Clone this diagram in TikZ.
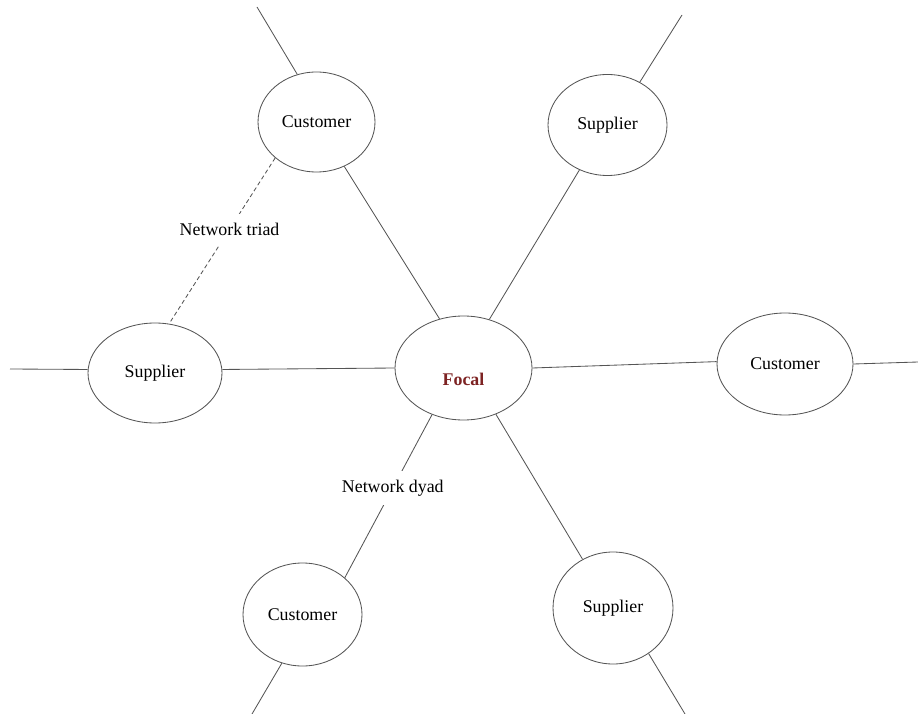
\documentclass[tikz,border=0pt]{standalone}
\usepackage{fontspec}
\setmainfont{Liberation Serif}
\usepackage{xcolor}
\usepackage{tikz}
\usetikzlibrary{calc, shapes.geometric}

\definecolor{focalred}{RGB}{125,35,35}
\definecolor{linegrey}{RGB}{85,85,85}

\tikzset{
	bubble/.style 2 args = {ellipse, draw = linegrey, line width = 0.6pt, minimum width = {#1*0.025cm}, minimum height = {#2*0.025cm}, inner sep = 0pt, font = \fontsize{12.7}{15}\selectfont},
	link/.style = {draw = linegrey, line width = 0.6pt},
	tag/.style = {fill = white, inner xsep = 3pt, inner ysep = 6.5pt, font = \fontsize{12.7}{15}\selectfont},
}

\begin{document}
\begin{tikzpicture}[x = 0.025cm, y = -0.025cm]
		\useasboundingbox (0,0) rectangle (918,714);
		
		\node (focal) [bubble = {137}{104}, label = {[text = focalred, font = \fontsize{12.7}{15}\selectfont\bfseries, yshift = -7.8pt]center:Focal}] at (463.5,368) {};
		\node (customer top) [bubble = {117}{100}] at (316.5,122) {Customer};
		\node (supplier top) [bubble = {119}{101}] at (607.5,125) {Supplier};
		\node (supplier left) [bubble = {134}{100}] at (155,373) {Supplier};
		\node (customer right) [bubble = {136}{102}] at (785,364) {Customer};
		\node (customer bottom) [bubble = {119}{103}] at (302.5,614.5) {Customer};
		\node (supplier bottom) [bubble = {120}{112}] at (613,608) {Supplier};
		
		\coordinate (customer top end) at (257,7);
		\coordinate (supplier top end) at (682,15);
		\coordinate (supplier left end) at (10,369);
		\coordinate (customer right end) at (918,362);
		\coordinate (customer bottom end) at (252,714);
		\coordinate (supplier bottom end) at (685,714);
		
		\draw [link] (customer top.112) -- (customer top end);
		\draw [link] (supplier top.53) -- (supplier top end);
		\draw [link] (supplier left.177) -- (supplier left end);
		\draw [link] (customer right.0) -- (customer right end);
		\draw [link] (customer bottom.247) -- (customer bottom end);
		\draw [link] (supplier bottom.308) -- (supplier bottom end);
		
		\draw [link] (focal.116) -- (customer top.302);
		\draw [link] (focal.62) -- (supplier top.238);
		\draw [link] (focal.180) -- (supplier left.3);
		\draw [link] (focal.0) -- (customer right.178);
		\draw [link] (focal.236) -- node [tag, pos = 0.45] {Network dyad} (customer bottom.41);
		\draw [link] (focal.305) -- (supplier bottom.122);
		
		\draw [link, densely dashed] (customer top.221) -- node [tag, pos = 0.43] {Network triad} (supplier left.74);
	\end{tikzpicture}
\end{document}
